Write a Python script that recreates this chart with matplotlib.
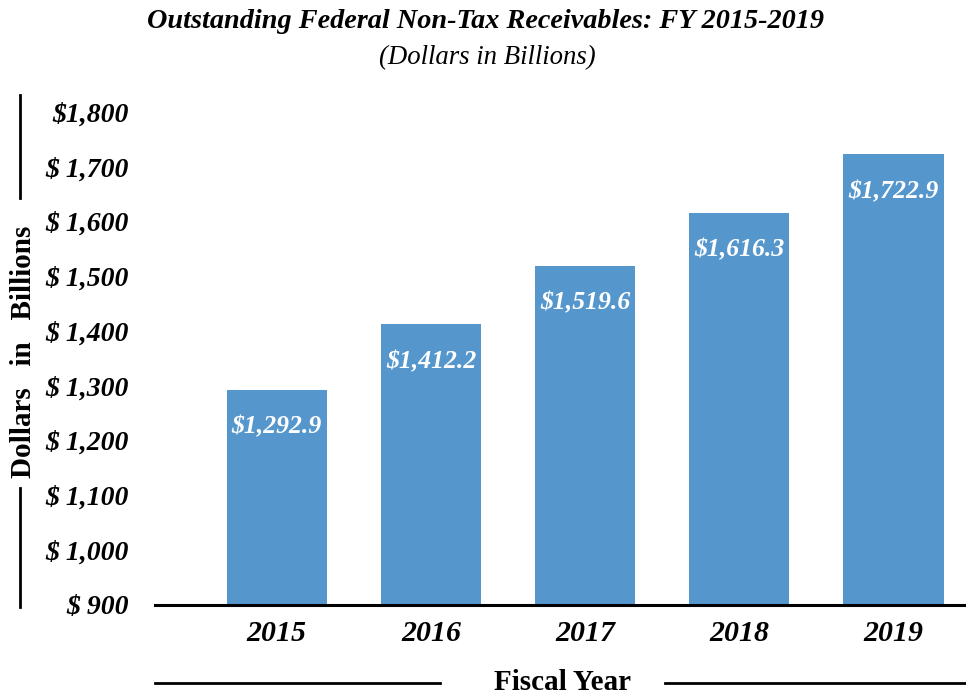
import matplotlib
matplotlib.use("Agg")
from matplotlib import pyplot as plt
from matplotlib.lines import Line2D

# 数据
years = ["2015", "2016", "2017", "2018", "2019"]
receivables = [1292.9, 1412.2, 1519.6, 1616.3, 1722.9]
y_ticks = [900, 1000, 1100, 1200, 1300, 1400, 1500, 1600, 1700, 1800]
y_tick_labels = ["$ 900", "$ 1,000", "$ 1,100", "$ 1,200", "$ 1,300",
                 "$ 1,400", "$ 1,500", "$ 1,600", "$ 1,700", "$1,800"]

plt.rcParams['font.family'] = ['Liberation Serif', 'DejaVu Serif']

W, H = 966, 696
fig = plt.figure(figsize=(W / 100, H / 100), dpi=100)


def fx(px):
    return px / W


def fy(py):
    return 1 - py / H


ax = fig.add_axes([fx(155), fy(605), fx(966) - fx(155), fy(112) - fy(605)])

x = list(range(len(years)))
bars = ax.bar(x, [v - 900 for v in receivables], bottom=900, width=0.65,
              color='#5597cd', zorder=2)
ax.set_ylim(900, 1800)
ax.set_xlim(-0.79, 4.47)

# 柱内数值标签
for xi, v in zip(x, receivables):
    ax.annotate(f"${v:,.1f}", (xi, v), xytext=(0, -27), textcoords='offset points',
                ha='center', va='center', color='white', fontsize=18.5,
                fontweight='bold', fontstyle='italic')

ax.set_yticks(y_ticks)
ax.set_yticklabels(y_tick_labels, fontsize=20, fontweight='bold', fontstyle='italic')
ax.set_xticks(x)
ax.set_xticklabels(years, fontsize=21.5, fontweight='bold', fontstyle='italic')
ax.tick_params(axis='y', length=0, pad=19)
ax.tick_params(axis='x', length=0, pad=11)
for s in ['left', 'right', 'top']:
    ax.spines[s].set_visible(False)
ax.spines['bottom'].set_linewidth(2.2)
ax.spines['bottom'].set_zorder(3)

# 标题
fig.text(fx(486), fy(22), "Outstanding Federal Non-Tax Receivables: FY 2015-2019",
         ha='center', va='center', fontsize=20.3, fontweight='bold', fontstyle='italic')
fig.text(fx(487), fy(58), "(Dollars in Billions)", ha='center', va='center',
         fontsize=19.3, fontstyle='italic')

# 坐标轴标题及装饰线
fig.text(fx(24), fy(352), "Dollars   in   Billions", rotation=90, ha='center', va='center',
         fontsize=21, fontweight='bold')
fig.add_artist(Line2D([fx(20), fx(20)], [fy(95), fy(198)], color='black', lw=2))
fig.add_artist(Line2D([fx(20), fx(20)], [fy(488), fy(607)], color='black', lw=2))

fig.text(fx(563), fy(683), "Fiscal Year", ha='center', va='center',
         fontsize=21, fontweight='bold')
fig.add_artist(Line2D([fx(155), fx(440)], [fy(683), fy(683)], color='black', lw=2))
fig.add_artist(Line2D([fx(665), fx(966)], [fy(683), fy(683)], color='black', lw=2))

fig.savefig("out.png", dpi=100)
plt.close(fig)
